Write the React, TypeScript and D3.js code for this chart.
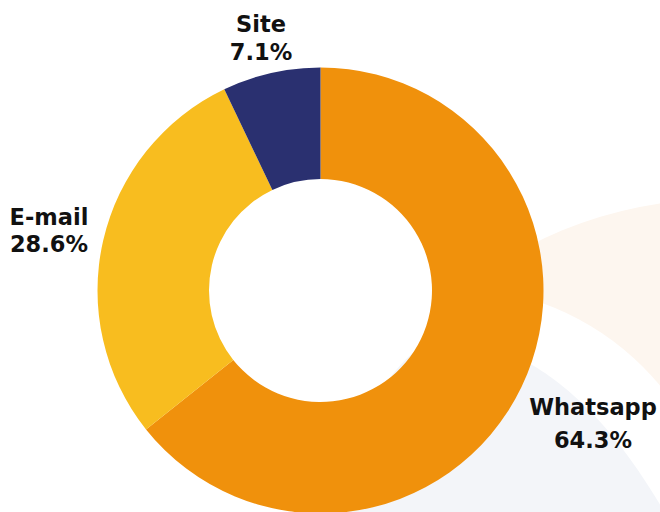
import React from "react";
import * as d3 from "d3";

const categories = ["Whatsapp", "E-mail", "Site"];
const values = [64.3, 28.6, 7.1];
const percentLabels = ["64.3%", "28.6%", "7.1%"];
const colors = ["#F0910C", "#F8BD1F", "#2A3070"];

const W = 660;
const H = 512;
const cx = 320.5;
const cy = 290.5;
const outerR = 223;
const innerR = 111.5;

// label anchor positions (center x, first baseline, second baseline)
const labelPos = [
  { x: 593, y1: 415, y2: 448 },
  { x: 49, y1: 225, y2: 252 },
  { x: 261, y1: 32, y2: 60 },
];

export default function App() {
  const pie = d3
    .pie<number>()
    .sort(null)
    .value((d) => d)
    .startAngle(0)
    .endAngle(2 * Math.PI);
  const arcs = pie(values);
  const arc = d3
    .arc<d3.PieArcDatum<number>>()
    .innerRadius(innerR)
    .outerRadius(outerR);

  return (
    <svg
      width={W}
      height={H}
      viewBox={`0 0 ${W} ${H}`}
      style={{ position: "fixed", left: 0, top: 0, display: "block", background: "#fff" }}
    >
      <rect x={0} y={0} width={W} height={H} fill="#ffffff" />
      {/* faint decorative background */}
      <circle cx={720} cy={611} r={412} fill="#FDF6EF" />
      <circle cx={450} cy={560} r={273} fill="#ffffff" />
      <path
        d="M360,420 C400,360 430,320 480,340 C530,360 600,390 680,540 L330,540 Z"
        fill="#F3F5F9"
      />
      <g transform={`translate(${cx},${cy})`}>
        {arcs.map((a, i) => (
          <path key={categories[i]} d={arc(a) || ""} fill={colors[i]} />
        ))}
      </g>
      <g
        fontFamily="'DejaVu Sans', sans-serif"
        fontWeight="bold"
        fontSize={22.5}
        fill="#111111"
        textAnchor="middle"
      >
        {categories.map((c, i) => (
          <g key={c}>
            <text x={labelPos[i].x} y={labelPos[i].y1}>
              {c}
            </text>
            <text x={labelPos[i].x} y={labelPos[i].y2}>
              {percentLabels[i]}
            </text>
          </g>
        ))}
      </g>
    </svg>
  );
}
